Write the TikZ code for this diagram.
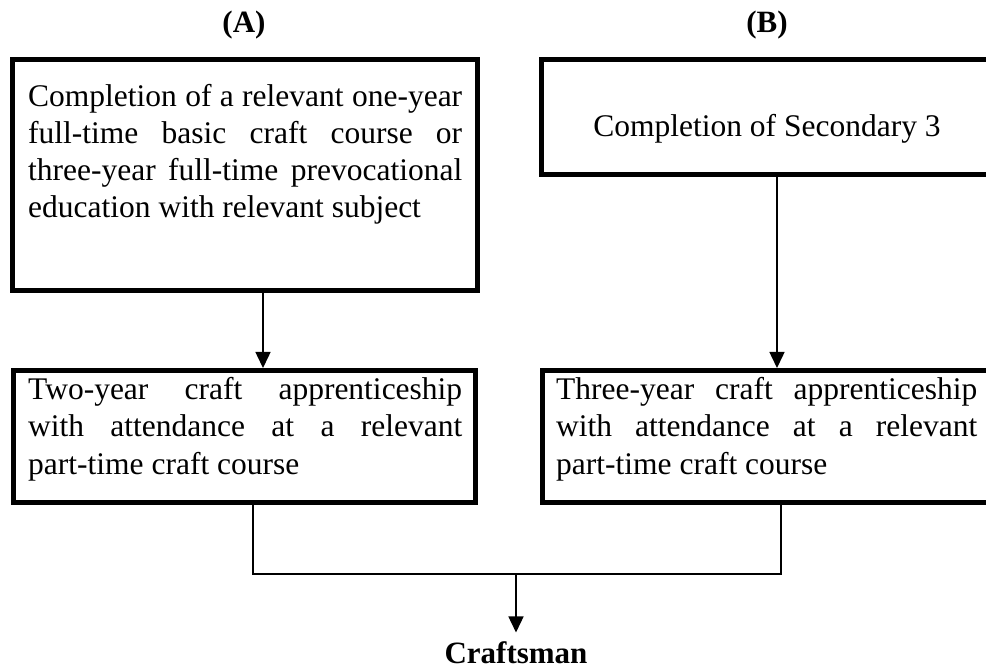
\documentclass[tikz,border=0pt]{standalone}
\usepackage{fontspec}
\setmainfont{Liberation Serif}
\usetikzlibrary{arrows.meta}
\newcommand\nohyph{\hyphenpenalty=10000 \exhyphenpenalty=10000 \tolerance=10000 \relax}
\begin{document}
\begin{tikzpicture}[x=1pt,y=-1pt,
  boxnode/.style={draw=black, line width=5pt, inner sep=0pt},
  txt/.style={inner sep=0pt, anchor=base west, align=justify,
    font=\fontsize{31.5}{37}\selectfont},
  lbl/.style={inner sep=0pt, font=\fontsize{31}{37}\selectfont\bfseries},
  conn/.style={line width=1.5pt},
  arr/.style={conn, -{Triangle[length=16pt,width=15pt]}}]
\useasboundingbox (0,0) rectangle (986,668);

% labels
\node[lbl, anchor=base] (la) at (244,33) {(A)};
\node[lbl, anchor=base] (lb) at (767,33) {(B)};

% top boxes
\node[boxnode, minimum width=465pt, minimum height=231pt] (boxA) at (245,175) {};
\node[txt, text width=434pt] (textA) at (28,107) {\nohyph Completion of a relevant one-year\linebreak
full-time basic craft course or\linebreak
three-year full-time prevocational\linebreak
education with relevant subject};

\node[boxnode, minimum width=451pt, minimum height=115pt] (boxB) at (767,117) {};
\node[inner sep=0pt, anchor=base, font=\fontsize{31.5}{37}\selectfont] (textB) at (767,137) {Completion of Secondary 3};

% lower boxes
\node[boxnode, minimum width=462pt, minimum height=132pt] (lowA) at (244.5,436.5) {};
\node[txt, text width=434pt] (textLA) at (28,400) {\nohyph Two-year craft apprenticeship\linebreak
with attendance at a relevant\linebreak
part-time craft course};

\node[boxnode, minimum width=450pt, minimum height=132pt] (lowB) at (767.5,436.5) {};
\node[txt, text width=421pt] (textLB) at (556,400) {\nohyph Three-year craft apprenticeship\linebreak
with attendance at a relevant\linebreak
part-time craft course};

% result
\node[lbl, anchor=base, inner ysep=8.5pt] (craft) at (516,663) {Craftsman};

% connectors
\coordinate (xa) at (263,0);
\coordinate (xb) at (777,0);
\draw[arr] (xa |- boxA.south) -- (xa |- lowA.north);
\draw[arr] (xb |- boxB.south) -- (xb |- lowB.north);

\coordinate (ja) at (253,574);
\coordinate (jb) at (781,574);
\coordinate (j) at (516,574);
\draw[conn] (ja |- lowA.south) -- (ja) -- (jb) -- (jb |- lowB.south);
\draw[arr] (j) -- (craft.north);
\end{tikzpicture}
\end{document}
